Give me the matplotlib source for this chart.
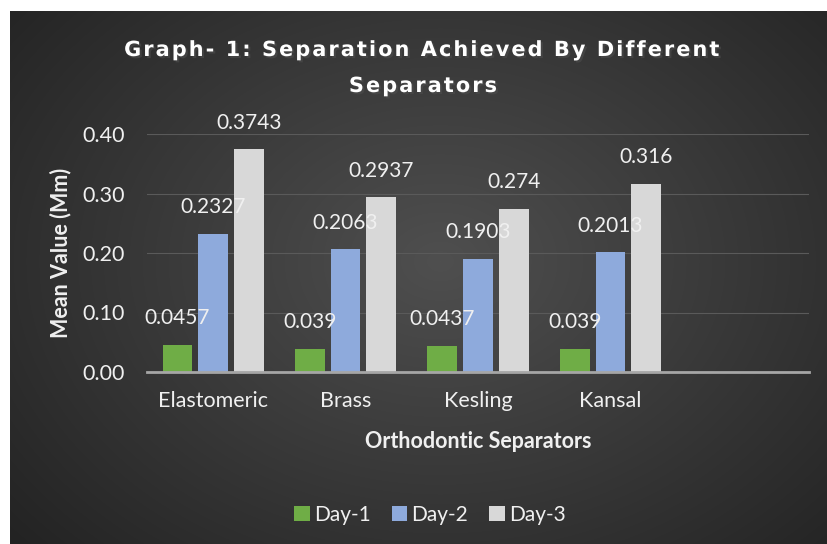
import numpy as np
import matplotlib

matplotlib.use("Agg")
import matplotlib.pyplot as plt
import matplotlib.patheffects as pe

categories = ["Elastomeric", "Brass", "Kesling", "Kansal", ""]
series_names = ["Day-1", "Day-2", "Day-3"]
day1 = [0.0457, 0.039, 0.0437, 0.039, np.nan]
day2 = [0.2327, 0.2063, 0.1903, 0.2013, np.nan]
day3 = [0.3743, 0.2937, 0.274, 0.316, np.nan]
label_text = [
    ["0.0457", "0.039", "0.0437", "0.039"],
    ["0.2327", "0.2063", "0.1903", "0.2013"],
    ["0.3743", "0.2937", "0.274", "0.316"],
]
colors = ["#6fad46", "#8eaadc", "#d8d8d8"]
yticks = [0.0, 0.1, 0.2, 0.3, 0.4]
title_lines = ["Graph- 1: Separation Achieved By Different", "Separators"]

plt.rcParams["font.family"] = ["Lato", "DejaVu Sans"]
text_color = "#f0f0f0"

fig = plt.figure(figsize=(8.27, 5.44), dpi=100)
fig.patch.set_facecolor("white")

# dark radial-gradient chart background
bg = fig.add_axes([10 / 827, 0, 817 / 827, 533 / 544])
bg.set_axis_off()
yy, xx = np.mgrid[0:533, 0:817]
dist = np.sqrt(((xx - 430) / 560.0) ** 2 + ((yy - 250) / 420.0) ** 2)
shade = np.clip(0.31 - 0.17 * dist, 0.14, 0.31)
bg.imshow(np.dstack([shade, shade, shade]), aspect="auto", interpolation="bilinear")

ax = fig.add_axes([147 / 827, 1 - 372 / 544, 662 / 827, 238 / 544])
ax.set_facecolor("none")

x = np.arange(len(categories))
width = 0.225
step = 0.27
all_series = [day1, day2, day3]
for i, (vals, name, col) in enumerate(zip(all_series, series_names, colors)):
    pos = x + (i - 1) * step
    ax.bar(pos, vals, width, color=col, label=name, zorder=3)
    for p, v, t in zip(pos, vals, label_text[i]):
        ax.annotate(t, (p, v), xytext=(0, 12), textcoords="offset points",
                    ha="center", va="bottom", color=text_color, fontsize=15, zorder=5)

ax.set_xlim(-0.5, len(categories) - 0.5)
ax.set_ylim(0, 0.4)
ax.set_yticks(yticks)
ax.set_yticklabels([f"{t:.2f}" for t in yticks])
ax.set_xticks(x)
ax.set_xticklabels(categories)
ax.tick_params(axis="both", length=0, colors=text_color, labelsize=15.5)
ax.tick_params(axis="y", pad=16)
ax.tick_params(axis="x", pad=14)
for s in ["top", "right", "left"]:
    ax.spines[s].set_visible(False)
ax.spines["bottom"].set_color("#a6a6a6")
ax.spines["bottom"].set_linewidth(2)
ax.spines["bottom"].set_zorder(4)
ax.grid(axis="y", color="#5a5a5a", linewidth=0.8, zorder=0)
ax.set_axisbelow(True)

ax.set_ylabel("Mean Value (Mm)", color=text_color, fontsize=15.5, fontweight="bold", labelpad=8)
ax.set_xlabel("Orthodontic Separators", color=text_color, fontsize=15.5, fontweight="bold", labelpad=14)

# letter-spaced title with a soft shadow
title = "\n".join("\u200a".join(line) for line in title_lines)
fig.text(0.512, 1 - 68 / 544, title,
         ha="center", va="center", color="white", fontsize=15, fontweight="bold",
         family="DejaVu Sans", linespacing=2.0,
         path_effects=[pe.SimplePatchShadow(offset=(1.5, -1.5), alpha=0.6), pe.Normal()])

leg = fig.legend(loc="center", bbox_to_anchor=(430 / 827, 1 - 515 / 544), ncol=3,
                 frameon=False, fontsize=15, handlelength=0.75, handleheight=0.75,
                 handletextpad=0.2, columnspacing=1.0)
for t in leg.get_texts():
    t.set_color(text_color)

fig.savefig("out.png", dpi=100)
